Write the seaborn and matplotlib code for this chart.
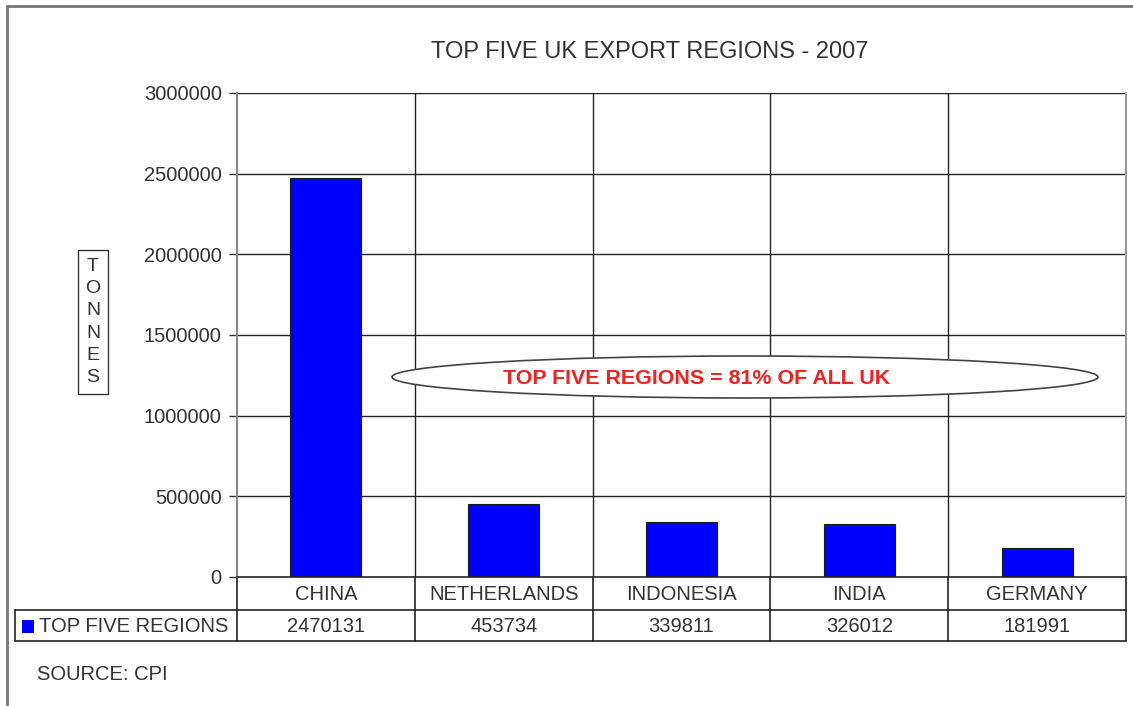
import matplotlib
matplotlib.use("Agg")
import matplotlib.pyplot as plt
import matplotlib.transforms as mtransforms
from matplotlib.patches import Ellipse, Rectangle
from matplotlib.lines import Line2D
import seaborn as sns
import pandas as pd

# Export tonnage by destination region, 2007
regions = ["CHINA", "NETHERLANDS", "INDONESIA", "INDIA", "GERMANY"]
tonnes = [2470131, 453734, 339811, 326012, 181991]
series_name = "TOP FIVE REGIONS"
y_ticks = [0, 500000, 1000000, 1500000, 2000000, 2500000, 3000000]
title = "TOP FIVE UK EXPORT REGIONS - 2007"
callout = "TOP FIVE REGIONS = 81% OF ALL UK"
source_note = "SOURCE: CPI"

sns.set_theme(style="white")
plt.rcParams["font.family"] = ["Liberation Sans", "DejaVu Sans"]

W, H = 1133, 706
fig = plt.figure(figsize=(W / 100, H / 100), dpi=100)
fig.patch.set_facecolor("white")

def fx(px):
    return px / W

def fy(py):
    return 1 - py / H

TXT = "#333333"
FS = 14.5

ax_l, ax_r, ax_t, ax_b = 237, 1126, 93, 577
ax = fig.add_axes([fx(ax_l), fy(ax_b), fx(ax_r - ax_l), (ax_b - ax_t) / H])

df = pd.DataFrame({"region": regions, "tonnes": tonnes})
sns.barplot(data=df, x="region", y="tonnes", ax=ax, color="#0000FF",
            saturation=1, width=0.4, edgecolor="#1a1a1a", linewidth=0.8)

ax.set_xlim(-0.5, len(regions) - 0.5)
ax.set_ylim(0, 3000000)
ax.set_yticks(y_ticks)
ax.set_yticklabels([str(v) for v in y_ticks], fontsize=FS, color=TXT)
ax.tick_params(axis="y", direction="out", length=6, width=1, color=TXT, pad=5, left=True)
ax.tick_params(axis="x", bottom=False, labelbottom=False)
ax.set_xlabel("")
ax.set_ylabel("")

# horizontal gridlines at each y tick and vertical column dividers
for v in y_ticks[1:]:
    ax.axhline(v, color="#222222", lw=1, zorder=0)
for i in range(1, len(regions)):
    ax.axvline(i - 0.5, color="#222222", lw=1, zorder=0)

for side in ["top", "right"]:
    ax.spines[side].set_visible(False)
ax.spines["left"].set_color("#888888")
ax.spines["left"].set_linewidth(1.5)
ax.spines["bottom"].set_color("#222222")
ax.spines["bottom"].set_linewidth(1.2)
ax.set_facecolor("white")

# data table underneath the chart
blend = mtransforms.blended_transform_factory(ax.transData, ax.transAxes)
axh = ax_b - ax_t
axw = ax_r - ax_l
y_row_mid = (ax_b - 610) / axh
y_row_bot = (ax_b - 641) / axh
y_lab = (ax_b - 594) / axh
y_val = (ax_b - 626) / axh
x_left_cell = (15 - ax_l) / axw

line_kw = dict(color="#222222", lw=1.2, clip_on=False)
for i in range(len(regions) + 1):
    ax.add_line(Line2D([i - 0.5, i - 0.5], [0, y_row_bot], transform=blend, **line_kw))
ax.add_line(Line2D([x_left_cell, 1], [y_row_mid, y_row_mid], transform=ax.transAxes, **line_kw))
ax.add_line(Line2D([x_left_cell, 1], [y_row_bot, y_row_bot], transform=ax.transAxes, **line_kw))
ax.add_line(Line2D([x_left_cell, x_left_cell], [y_row_mid, y_row_bot], transform=ax.transAxes, **line_kw))
ax.add_line(Line2D([1, 1], [0, 1], transform=ax.transAxes, color="#999999", lw=1.5, clip_on=False))

for i, (r, t) in enumerate(zip(regions, tonnes)):
    ax.text(i, y_lab, r, transform=blend, ha="center", va="center",
            fontsize=FS, color=TXT, clip_on=False)
    ax.text(i, y_val, str(t), transform=blend, ha="center", va="center",
            fontsize=FS, color=TXT, clip_on=False)

# legend key in the table's first cell
sq = (22 - ax_l) / axw
ax.add_patch(Rectangle((sq, (ax_b - 633) / axh), 12 / axw, 13 / axh,
                       transform=ax.transAxes, facecolor="#0000FF",
                       edgecolor="none", clip_on=False))
ax.text((39 - ax_l) / axw, y_val, series_name, transform=ax.transAxes,
        ha="left", va="center", fontsize=FS, color=TXT, clip_on=False)

# overlay axes in pixel space for annotations
ov = fig.add_axes([0, 0, 1, 1], zorder=5)
ov.set_xlim(0, W)
ov.set_ylim(H, 0)
ov.axis("off")
ov.patch.set_alpha(0)

ov.text(650, 52, title, ha="center", va="center", fontsize=17, color=TXT)

ov.text(93, 322, "T\nO\nN\nN\nE\nS", ha="center", va="center", fontsize=14,
        color=TXT, linespacing=1.4,
        bbox=dict(boxstyle="square,pad=0.4", facecolor="white",
                  edgecolor=TXT, lw=1))

ov.add_patch(Ellipse((745, 377), 706, 42, facecolor="white",
                     edgecolor="#444444", lw=1.2))
ov.text(697, 379, callout, ha="center", va="center", fontsize=15.4,
        fontweight="bold", color="#EE2222")

ov.text(37, 675, source_note, ha="left", va="center", fontsize=FS, color=TXT)

# outer frame (left and top)
ov.add_line(Line2D([7, 7], [6, H], color="#777777", lw=2))
ov.add_line(Line2D([7, W], [6, 6], color="#777777", lw=2))

fig.savefig("out.png", dpi=100, facecolor="white")
